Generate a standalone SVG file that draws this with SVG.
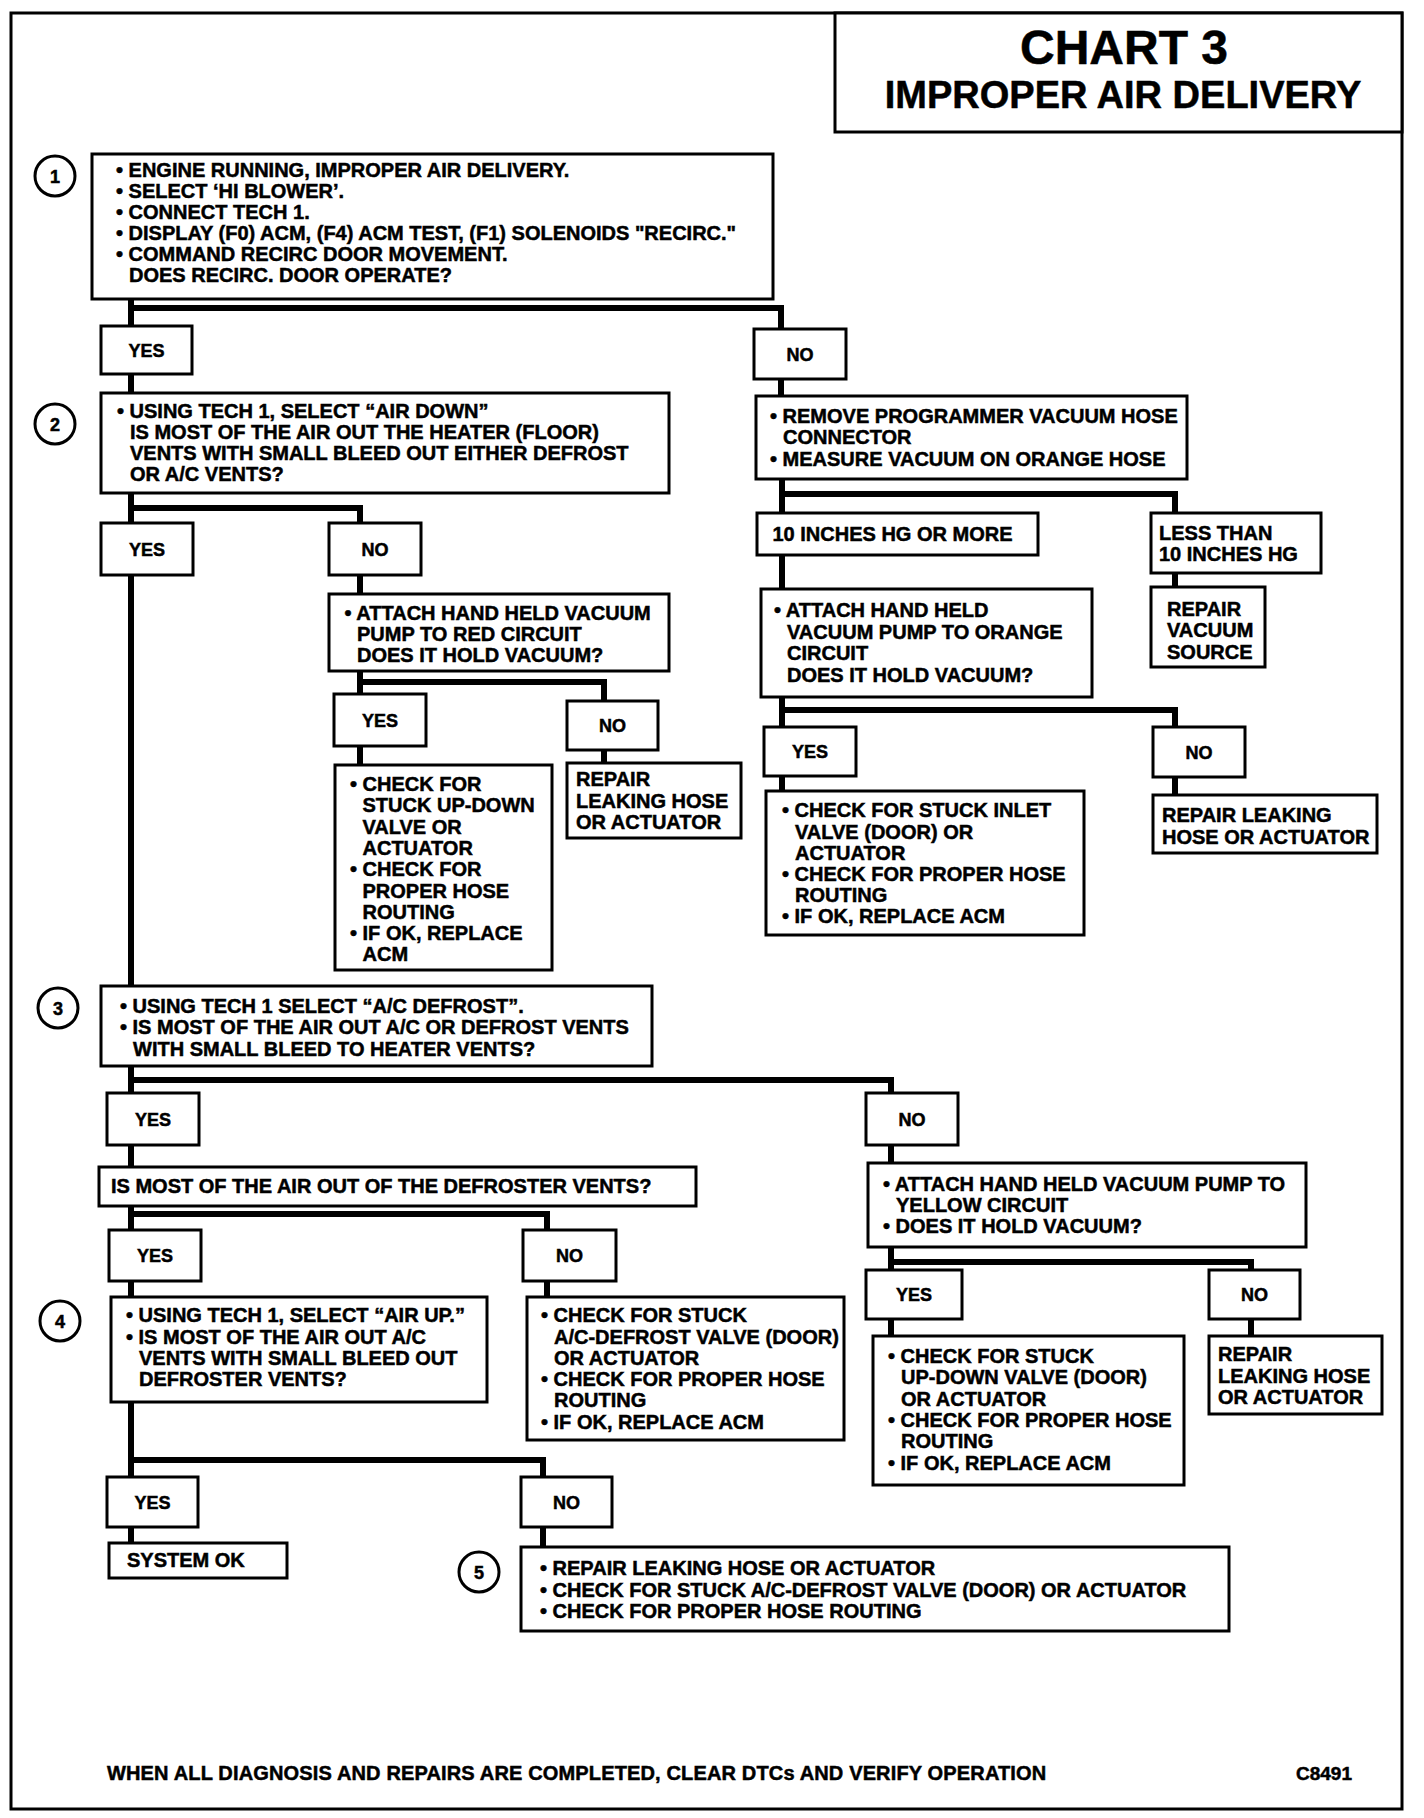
<svg xmlns="http://www.w3.org/2000/svg" width="1424" height="1818" viewBox="0 0 1424 1818">
<style>
.frame{fill:none;stroke:#000;stroke-width:3}
.box{fill:#fff;stroke:#000;stroke-width:3}
.circ{fill:#fff;stroke:#000;stroke-width:3}
.conn{fill:none;stroke:#000;stroke-width:6;stroke-linejoin:miter}
text{font-family:"Liberation Sans",Arial,sans-serif;font-weight:bold;fill:#000;stroke:#000;stroke-width:0.5}
.t{font-size:20px}
.yn{font-size:18px;text-anchor:middle}
.num{font-size:18px;text-anchor:middle}
.foot{font-size:20px;letter-spacing:0.15px}
</style>
<rect width="1424" height="1818" fill="#fff"/>
<rect class="frame" x="11" y="13" width="1391" height="1796"/>

<g id="title">
<rect class="box" x="835" y="13" width="567" height="119"/>
<text x="1124" y="64" font-size="48" text-anchor="middle">CHART 3</text>
<text x="1123" y="108" font-size="38" text-anchor="middle">IMPROPER AIR DELIVERY</text>
</g>

<g id="connectors">
<path class="conn" d="M131 299 V393"/>
<path class="conn" d="M131 308 H781 V396"/>
<path class="conn" d="M131 493 V986"/>
<path class="conn" d="M131 508 H360 V594"/>
<path class="conn" d="M360 671 V765"/>
<path class="conn" d="M360 682 H604 V763"/>
<path class="conn" d="M782 479 V589"/>
<path class="conn" d="M782 494 H1175 V587"/>
<path class="conn" d="M782 697 V791"/>
<path class="conn" d="M782 710 H1175 V795"/>
<path class="conn" d="M131 1066 V1167"/>
<path class="conn" d="M131 1080 H891 V1163"/>
<path class="conn" d="M131 1206 V1297"/>
<path class="conn" d="M131 1214 H547 V1297"/>
<path class="conn" d="M131 1402 V1543"/>
<path class="conn" d="M131 1460 H543 V1547"/>
<path class="conn" d="M891 1247 V1336"/>
<path class="conn" d="M891 1262 H1251 V1336"/>
</g>

<g id="step1">
<circle class="circ" cx="55" cy="176" r="20"/>
<text class="num" x="55" y="182.5">1</text>
</g>
<g id="n1">
<rect class="box" x="92" y="154" width="681" height="145"/>
<text class="t" x="116" y="177">• ENGINE RUNNING, IMPROPER AIR DELIVERY.</text>
<text class="t" x="116" y="198">• SELECT ‘HI BLOWER’.</text>
<text class="t" x="116" y="219">• CONNECT TECH 1.</text>
<text class="t" x="116" y="240">• DISPLAY (F0) ACM, (F4) ACM TEST, (F1) SOLENOIDS "RECIRC."</text>
<text class="t" x="116" y="261">• COMMAND RECIRC DOOR MOVEMENT.</text>
<text class="t" x="129" y="282">DOES RECIRC. DOOR OPERATE?</text>
</g>
<g id="yes1"><rect class="box" x="101" y="326" width="91" height="48"/><text class="yn" x="146.5" y="356.5">YES</text></g>
<g id="no1"><rect class="box" x="754" y="329" width="92" height="50"/><text class="yn" x="800" y="360.5">NO</text></g>

<g id="step2">
<circle class="circ" cx="55" cy="424" r="20"/>
<text class="num" x="55" y="430.5">2</text>
</g>
<g id="n2">
<rect class="box" x="101" y="393" width="568" height="100"/>
<text class="t" x="117" y="418">• USING TECH 1, SELECT “AIR DOWN”</text>
<text class="t" x="130" y="439">IS MOST OF THE AIR OUT THE HEATER (FLOOR)</text>
<text class="t" x="130" y="460">VENTS WITH SMALL BLEED OUT EITHER DEFROST</text>
<text class="t" x="130" y="481">OR A/C VENTS?</text>
</g>
<g id="yes2"><rect class="box" x="101" y="523" width="92" height="52"/><text class="yn" x="147" y="555.5">YES</text></g>
<g id="no2"><rect class="box" x="329" y="523" width="92" height="52"/><text class="yn" x="375" y="555.5">NO</text></g>

<g id="red">
<rect class="box" x="329" y="594" width="340" height="77"/>
<text class="t" x="344.5" y="620">• ATTACH HAND HELD VACUUM</text>
<text class="t" x="357" y="641">PUMP TO RED CIRCUIT</text>
<text class="t" x="357" y="662">DOES IT HOLD VACUUM?</text>
</g>
<g id="yes3"><rect class="box" x="334" y="694" width="92" height="52"/><text class="yn" x="380" y="726.5">YES</text></g>
<g id="no3"><rect class="box" x="567" y="701" width="91" height="49"/><text class="yn" x="612.5" y="732">NO</text></g>
<g id="chkA">
<rect class="box" x="335" y="765" width="217" height="205"/>
<text class="t" x="350" y="791">• CHECK FOR</text>
<text class="t" x="362.5" y="812">STUCK UP-DOWN</text>
<text class="t" x="362.5" y="834">VALVE OR</text>
<text class="t" x="362.5" y="855">ACTUATOR</text>
<text class="t" x="350" y="876">• CHECK FOR</text>
<text class="t" x="362.5" y="898">PROPER HOSE</text>
<text class="t" x="362.5" y="919">ROUTING</text>
<text class="t" x="350" y="940">• IF OK, REPLACE</text>
<text class="t" x="362.5" y="961">ACM</text>
</g>
<g id="repB">
<rect class="box" x="567" y="763" width="174" height="75"/>
<text class="t" x="576" y="786">REPAIR</text>
<text class="t" x="576" y="808">LEAKING HOSE</text>
<text class="t" x="576" y="829">OR ACTUATOR</text>
</g>

<g id="remove">
<rect class="box" x="756" y="396" width="431" height="83"/>
<text class="t" x="770" y="423">• REMOVE PROGRAMMER VACUUM HOSE</text>
<text class="t" x="783" y="444">CONNECTOR</text>
<text class="t" x="770" y="466">• MEASURE VACUUM ON ORANGE HOSE</text>
</g>
<g id="inch10"><rect class="box" x="757" y="513" width="281" height="42"/><text class="t" x="772.5" y="541">10 INCHES HG OR MORE</text></g>
<g id="less">
<rect class="box" x="1151" y="513" width="170" height="60"/>
<text class="t" x="1159" y="540">LESS THAN</text>
<text class="t" x="1159" y="561">10 INCHES HG</text>
</g>
<g id="repvac">
<rect class="box" x="1151" y="587" width="114" height="80"/>
<text class="t" x="1167" y="616">REPAIR</text>
<text class="t" x="1167" y="637">VACUUM</text>
<text class="t" x="1167" y="659">SOURCE</text>
</g>
<g id="orange">
<rect class="box" x="761" y="589" width="331" height="108"/>
<text class="t" x="774" y="617">• ATTACH HAND HELD</text>
<text class="t" x="787" y="639">VACUUM PUMP TO ORANGE</text>
<text class="t" x="787" y="660">CIRCUIT</text>
<text class="t" x="787" y="682">DOES IT HOLD VACUUM?</text>
</g>
<g id="yes4"><rect class="box" x="764" y="727" width="92" height="49"/><text class="yn" x="810" y="758">YES</text></g>
<g id="no4"><rect class="box" x="1153" y="727" width="92" height="50"/><text class="yn" x="1199" y="758.5">NO</text></g>
<g id="inlet">
<rect class="box" x="766" y="791" width="318" height="144"/>
<text class="t" x="782" y="817">• CHECK FOR STUCK INLET</text>
<text class="t" x="795" y="839">VALVE (DOOR) OR</text>
<text class="t" x="795" y="860">ACTUATOR</text>
<text class="t" x="782" y="881">• CHECK FOR PROPER HOSE</text>
<text class="t" x="795" y="902">ROUTING</text>
<text class="t" x="782" y="923">• IF OK, REPLACE ACM</text>
</g>
<g id="repleak">
<rect class="box" x="1153" y="795" width="224" height="58"/>
<text class="t" x="1162" y="822">REPAIR LEAKING</text>
<text class="t" x="1162" y="844">HOSE OR ACTUATOR</text>
</g>

<g id="step3">
<circle class="circ" cx="58" cy="1008" r="20"/>
<text class="num" x="58" y="1014.5">3</text>
</g>
<g id="n3">
<rect class="box" x="101" y="986" width="551" height="80"/>
<text class="t" x="120" y="1013">• USING TECH 1 SELECT “A/C DEFROST”.</text>
<text class="t" x="120" y="1034">• IS MOST OF THE AIR OUT A/C OR DEFROST VENTS</text>
<text class="t" x="133" y="1056">WITH SMALL BLEED TO HEATER VENTS?</text>
</g>
<g id="yes5"><rect class="box" x="107" y="1093" width="92" height="52"/><text class="yn" x="153" y="1125.5">YES</text></g>
<g id="no5"><rect class="box" x="866" y="1093" width="92" height="52"/><text class="yn" x="912" y="1125.5">NO</text></g>
<g id="defq"><rect class="box" x="99" y="1167" width="597" height="39"/><text class="t" x="111" y="1193">IS MOST OF THE AIR OUT OF THE DEFROSTER VENTS?</text></g>
<g id="yes6"><rect class="box" x="109" y="1230" width="92" height="51"/><text class="yn" x="155" y="1262">YES</text></g>
<g id="no6"><rect class="box" x="523" y="1230" width="93" height="51"/><text class="yn" x="569.5" y="1262">NO</text></g>

<g id="step4">
<circle class="circ" cx="60" cy="1321" r="20"/>
<text class="num" x="60" y="1327.5">4</text>
</g>
<g id="n4">
<rect class="box" x="111" y="1297" width="376" height="105"/>
<text class="t" x="126" y="1322">• USING TECH 1, SELECT “AIR UP.”</text>
<text class="t" x="126" y="1344">• IS MOST OF THE AIR OUT A/C</text>
<text class="t" x="139" y="1365">VENTS WITH SMALL BLEED OUT</text>
<text class="t" x="139" y="1386">DEFROSTER VENTS?</text>
</g>
<g id="chk6">
<rect class="box" x="527" y="1297" width="317" height="143"/>
<text class="t" x="541" y="1322">• CHECK FOR STUCK</text>
<text class="t" x="554" y="1344">A/C-DEFROST VALVE (DOOR)</text>
<text class="t" x="554" y="1365">OR ACTUATOR</text>
<text class="t" x="541" y="1386">• CHECK FOR PROPER HOSE</text>
<text class="t" x="554" y="1407">ROUTING</text>
<text class="t" x="541" y="1429">• IF OK, REPLACE ACM</text>
</g>
<g id="yes7"><rect class="box" x="107" y="1477" width="91" height="50"/><text class="yn" x="152.5" y="1508.5">YES</text></g>
<g id="no7"><rect class="box" x="521" y="1477" width="91" height="50"/><text class="yn" x="566.5" y="1508.5">NO</text></g>
<g id="sysok"><rect class="box" x="109" y="1543" width="178" height="35"/><text class="t" x="127" y="1567">SYSTEM OK</text></g>

<g id="step5">
<circle class="circ" cx="479" cy="1572" r="20"/>
<text class="num" x="479" y="1578.5">5</text>
</g>
<g id="n5">
<rect class="box" x="521" y="1547" width="708" height="84"/>
<text class="t" x="540" y="1575">• REPAIR LEAKING HOSE OR ACTUATOR</text>
<text class="t" x="540" y="1597">• CHECK FOR STUCK A/C-DEFROST VALVE (DOOR) OR ACTUATOR</text>
<text class="t" x="540" y="1618">• CHECK FOR PROPER HOSE ROUTING</text>
</g>

<g id="yellow">
<rect class="box" x="868" y="1163" width="438" height="84"/>
<text class="t" x="883" y="1191">• ATTACH HAND HELD VACUUM PUMP TO</text>
<text class="t" x="896" y="1212">YELLOW CIRCUIT</text>
<text class="t" x="883" y="1233">• DOES IT HOLD VACUUM?</text>
</g>
<g id="yes8"><rect class="box" x="866" y="1270" width="96" height="49"/><text class="yn" x="914" y="1301">YES</text></g>
<g id="no8"><rect class="box" x="1209" y="1270" width="91" height="49"/><text class="yn" x="1254.5" y="1301">NO</text></g>
<g id="chkUD">
<rect class="box" x="873" y="1336" width="311" height="149"/>
<text class="t" x="888" y="1363">• CHECK FOR STUCK</text>
<text class="t" x="901" y="1384">UP-DOWN VALVE (DOOR)</text>
<text class="t" x="901" y="1406">OR ACTUATOR</text>
<text class="t" x="888" y="1427">• CHECK FOR PROPER HOSE</text>
<text class="t" x="901" y="1448">ROUTING</text>
<text class="t" x="888" y="1470">• IF OK, REPLACE ACM</text>
</g>
<g id="repY">
<rect class="box" x="1209" y="1336" width="173" height="78"/>
<text class="t" x="1218" y="1361">REPAIR</text>
<text class="t" x="1218" y="1383">LEAKING HOSE</text>
<text class="t" x="1218" y="1404">OR ACTUATOR</text>
</g>

<g id="footer">
<text class="foot" x="107" y="1780">WHEN ALL DIAGNOSIS AND REPAIRS ARE COMPLETED, CLEAR DTCs AND VERIFY OPERATION</text>
<text x="1296" y="1780" font-size="19">C8491</text>
</g>
</svg>
